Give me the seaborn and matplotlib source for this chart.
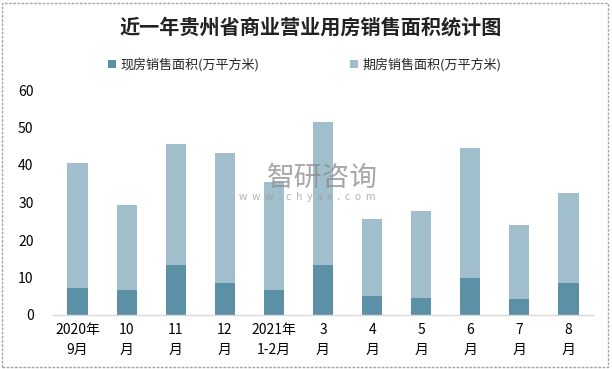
import matplotlib
matplotlib.use("Agg")
import matplotlib.pyplot as plt
import seaborn as sns
import pandas as pd
from matplotlib.patches import Rectangle, Patch

categories = ["2020年\n9月", "10\n月", "11\n月", "12\n月", "2021年\n1-2月", "3\n月",
              "4\n月", "5\n月", "6\n月", "7\n月", "8\n月"]
current = [7.2, 6.7, 13.3, 8.5, 6.7, 13.3, 5.1, 4.5, 9.9, 4.3, 8.5]
presale = [33.3, 22.6, 32.3, 34.7, 28.8, 38.2, 20.5, 23.2, 34.6, 19.7, 24.0]
series_names = ["现房销售面积(万平方米)", "期房销售面积(万平方米)"]
yticks = [0, 10, 20, 30, 40, 50, 60]

sns.set_theme(style="white")
plt.rcParams['font.family'] = ['Noto Sans CJK SC', 'DejaVu Sans']

dark = "#5b90a6"
light = "#a0becb"

df = pd.DataFrame({"cat": categories, "current": current, "presale": presale})

fig = plt.figure(figsize=(6.12, 3.69), dpi=100)
ax = fig.add_axes([53/612, 54/369, 540/612, 225/369])

sns.barplot(data=df, x="cat", y="current", order=categories, color=dark,
            width=0.41, saturation=1, ax=ax, linewidth=0)
sns.barplot(data=df, x="cat", y="presale", order=categories, color=light,
            width=0.41, saturation=1, ax=ax, linewidth=0, bottom=df["current"].values)

ax.set_ylim(0, 60)
ax.set_xlim(-0.5, len(categories) - 0.5)
ax.set_yticks(yticks)
ax.set_xlabel("")
ax.set_ylabel("")
for s in ["top", "right", "left"]:
    ax.spines[s].set_visible(False)
ax.spines["bottom"].set_color("#d9d9d9")
ax.spines["bottom"].set_linewidth(1)
ax.tick_params(axis="y", length=0, labelsize=10, pad=14, colors="#000000")
ax.tick_params(axis="x", length=0, labelsize=10, pad=6, colors="#000000")
for lbl in ax.get_xticklabels():
    lbl.set_linespacing(1.5)

fig.text(0.507, 1 - 27/369, "近一年贵州省商业营业用房销售面积统计图", ha="center", va="center",
         fontsize=14.5, fontweight="bold", color="#222222")

handles = [Patch(facecolor=dark, edgecolor="none"), Patch(facecolor=light, edgecolor="none")]
fig.legend(handles, series_names, loc="center", bbox_to_anchor=(0.498, 1 - 65/369),
           ncol=2, frameon=False, fontsize=9.4, handlelength=0.6, handleheight=0.6,
           handletextpad=0.35, columnspacing=7.0)

# watermark
fig.text(0.527, 1 - 178/369, "智研咨询", ha="center", va="center", fontsize=20,
         color="#8a8a8a", alpha=0.75, zorder=10)
fig.text(0.502, 1 - 197/369, "w  w  w  .  c  h  y  x  x  .  c  o  m", ha="center", va="center",
         fontsize=7.5, color="#9a9a9a", alpha=0.75, zorder=10)

fig.patches.append(Rectangle((2/612, 2/369), 606/612, 364/369, transform=fig.transFigure,
                             fill=False, edgecolor="#a6a6a6", linewidth=1, linestyle=(0, (2, 1))))

fig.savefig("out.png", dpi=100, facecolor="white")
